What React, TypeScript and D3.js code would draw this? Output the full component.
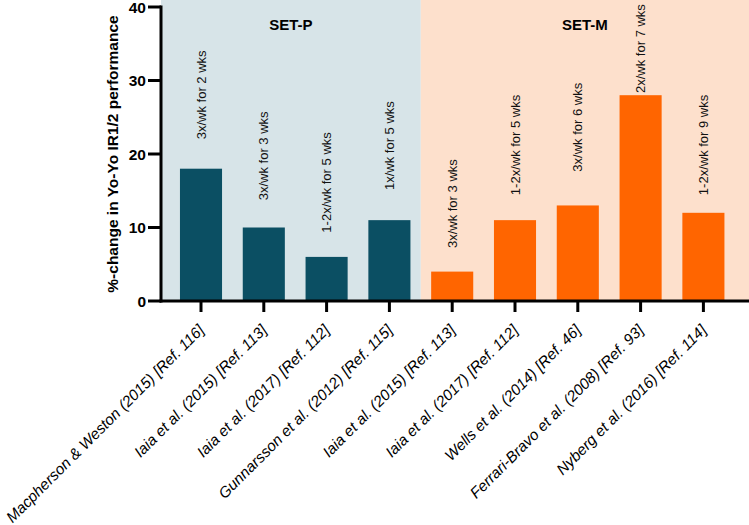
import * as d3 from "d3";

// studies on the x axis
const studies = [
  "Macpherson & Weston (2015) [Ref. 116]",
  "Iaia et al. (2015) [Ref. 113]",
  "Iaia et al. (2017) [Ref. 112]",
  "Gunnarsson et al. (2012) [Ref. 115]",
  "Iaia et al. (2015) [Ref. 113]",
  "Iaia et al. (2017) [Ref. 112]",
  "Wells et al. (2014) [Ref. 46]",
  "Ferrari-Bravo et al. (2008) [Ref. 93]",
  "Nyberg et al. (2016) [Ref. 114]",
];
const groups = ["SET-P", "SET-P", "SET-P", "SET-P", "SET-M", "SET-M", "SET-M", "SET-M", "SET-M"];
const change = [18, 10, 6, 11, 4, 11, 13, 28, 12];
const protocols = [
  "3x/wk for 2 wks",
  "3x/wk for 3 wks",
  "1-2x/wk for 5 wks",
  "1x/wk for 5 wks",
  "3x/wk for 3 wks",
  "1-2x/wk for 5 wks",
  "3x/wk for 6 wks",
  "2x/wk for 7 wks",
  "1-2x/wk for 9 wks",
];
// where each protocol note starts, in y units (hand placed in the original)
const noteAt = [22, 13.7, 9.3, 15.1, 7.2, 14.4, 17.6, 28.3, 14.4];
const yTicks = [0, 10, 20, 30, 40];

const W = 749;
const H = 525;
const axisX = 161;
const baseY = 301;
const topY = 7;
const font = "'Liberation Sans', Arial, sans-serif";

const colors: Record<string, { bar: string; bg: string }> = {
  "SET-P": { bar: "#0b4f63", bg: "#d7e4e8" },
  "SET-M": { bar: "#ff6500", bg: "#fde0cc" },
};

export default function App() {
  const idx = studies.map((_, i) => i);
  const x = d3
    .scaleBand<number>()
    .domain(idx)
    .range([169.6, 734.8])
    .paddingInner(0.33)
    .paddingOuter(0.165);
  const y = d3.scaleLinear().domain([0, 40]).range([baseY, topY]);
  const cx = (i: number) => (x(i) ?? 0) + x.bandwidth() / 2;

  // background panels, one per group
  const groupNames = Array.from(new Set(groups));
  const panels = groupNames.map((g, gi) => {
    const members = idx.filter((i) => groups[i] === g);
    const first = members[0];
    const last = members[members.length - 1];
    const x0 = gi === 0 ? axisX : (x(first) ?? 0) - (x.step() * x.paddingInner()) / 2;
    const x1 =
      gi === groupNames.length - 1 ? W : (x(last) ?? 0) + x.bandwidth() + (x.step() * x.paddingInner()) / 2;
    return { g, x0, x1 };
  });

  return (
    <svg
      width={W}
      height={H}
      style={{ position: "fixed", left: 0, top: 0, background: "#fff" }}
      fontFamily={font}
    >
      {panels.map((p) => (
        <g key={p.g}>
          <rect x={p.x0} y={0} width={p.x1 - p.x0} height={baseY} fill={colors[p.g].bg} />
          <text
            x={(p.x0 + p.x1) / 2}
            y={24}
            textAnchor="middle"
            dominantBaseline="central"
            fontWeight="bold"
            fontSize={15}
          >
            {p.g}
          </text>
        </g>
      ))}

      {idx.map((i) => (
        <rect
          key={"b" + i}
          x={x(i)}
          y={y(change[i])}
          width={x.bandwidth()}
          height={baseY - y(change[i])}
          fill={colors[groups[i]].bar}
        />
      ))}

      {idx.map((i) => (
        <text
          key={"n" + i}
          transform={`translate(${cx(i)},${y(noteAt[i])}) rotate(-90)`}
          dominantBaseline="central"
          fontSize={13}
          fill="#111"
        >
          {protocols[i]}
        </text>
      ))}

      {/* y axis */}
      <line x1={axisX} x2={axisX} y1={topY - 1.5} y2={baseY + 1.5} stroke="#000" strokeWidth={3} />
      {yTicks.map((t) => (
        <g key={"y" + t}>
          <line x1={axisX - 13} x2={axisX} y1={y(t)} y2={y(t)} stroke="#000" strokeWidth={3} />
          <text
            x={axisX - 15}
            y={y(t)}
            textAnchor="end"
            dominantBaseline="central"
            fontWeight="bold"
            fontSize={15.5}
          >
            {t}
          </text>
        </g>
      ))}
      <text
        transform={`translate(112,${(topY + baseY) / 2}) rotate(-90)`}
        textAnchor="middle"
        dominantBaseline="central"
        fontWeight="bold"
        fontSize={15.5}
      >
        %-change in Yo-Yo IR1/2 performance
      </text>

      {/* x axis */}
      <line x1={axisX - 1.5} x2={W} y1={baseY} y2={baseY} stroke="#000" strokeWidth={3} />
      {idx.map((i) => (
        <g key={"x" + i}>
          <line x1={cx(i)} x2={cx(i)} y1={baseY} y2={baseY + 11} stroke="#000" strokeWidth={3} />
          <text
            transform={`translate(${cx(i) + 4},${baseY + 30}) rotate(-45)`}
            textAnchor="end"
            fontStyle="italic"
            fontSize={15.3}
          >
            {studies[i]}
          </text>
        </g>
      ))}
    </svg>
  );
}
